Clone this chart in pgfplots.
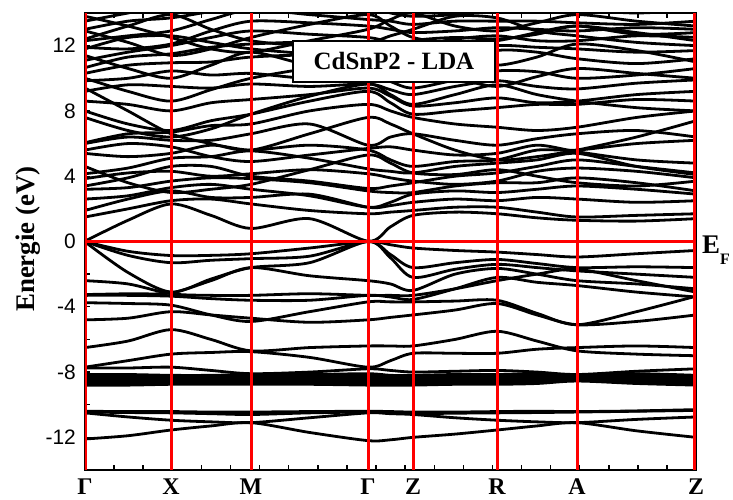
\documentclass[border=0pt]{standalone}
\usepackage{fontspec}
\setmainfont{Liberation Serif}
\newfontfamily\arial{Liberation Sans}
\usepackage{pgfplots}
\usepackage{pgfplotstable}
\pgfplotsset{compat=1.18}

% one row per band: energies at G, mid, X, mid, M, mid, G, mid, Z, mid, R, mid, A, mid, Z
\pgfplotstableread{
name p0 p1 p2 p3 p4 p5 p6 p7 p8 p9 p10 p11 p12 p13 p14
x 0 43 86 126 166 224.5 283 305.5 328 370 412 452 492 551.5 611
b1 -12.1 -11.9 -11.55 -11.3 -11.1 -11.7 -12.2 -12.15 -12.0 -11.8 -11.55 -11.3 -11.1 -11.6 -12.0
b2 -10.5 -10.75 -10.95 -11.05 -11.1 -10.8 -10.5 -10.55 -10.6 -10.8 -10.95 -11.05 -11.1 -10.9 -10.75
b3 -10.45 -10.48 -10.5 -10.55 -10.6 -10.5 -10.45 -10.5 -10.55 -10.52 -10.5 -10.48 -10.45 -10.4 -10.35
b4 -10.4 -10.42 -10.42 -10.45 -10.45 -10.42 -10.4 -10.42 -10.45 -10.45 -10.42 -10.4 -10.42 -10.38 -10.3
b5 -8.8 -8.8 -8.75 -8.75 -8.75 -8.75 -8.8 -8.8 -8.8 -8.75 -8.75 -8.7 -8.55 -8.7 -8.8
b6 -8.7 -8.7 -8.7 -8.65 -8.65 -8.7 -8.7 -8.7 -8.7 -8.65 -8.65 -8.6 -8.5 -8.6 -8.7
b7 -8.6 -8.55 -8.6 -8.6 -8.55 -8.6 -8.55 -8.6 -8.6 -8.6 -8.55 -8.5 -8.45 -8.5 -8.6
b8 -8.5 -8.45 -8.5 -8.5 -8.45 -8.45 -8.45 -8.5 -8.5 -8.5 -8.45 -8.4 -8.4 -8.4 -8.5
b9 -8.4 -8.35 -8.35 -8.4 -8.35 -8.35 -8.35 -8.4 -8.4 -8.35 -8.35 -8.3 -8.3 -8.3 -8.4
b10 -8.3 -8.25 -8.25 -8.3 -8.25 -8.25 -8.25 -8.3 -8.3 -8.25 -8.25 -8.2 -8.25 -8.2 -8.3
b11 -8.15 -8.15 -8.2 -8.2 -8.15 -8.15 -8.1 -8.2 -8.2 -8.15 -8.15 -8.1 -8.2 -8.1 -8.2
b12 -7.75 -7.75 -7.7 -7.9 -8.1 -8.0 -7.8 -7.9 -8.0 -7.95 -7.9 -8.0 -8.15 -7.95 -7.8
b13 -7.7 -7.3 -6.9 -6.8 -6.75 -7.1 -7.7 -7.3 -6.85 -6.85 -6.85 -6.6 -6.5 -6.4 -6.5
b14 -6.5 -6.1 -5.4 -6.0 -6.7 -6.5 -6.4 -6.4 -6.4 -6.0 -5.5 -6.1 -6.7 -6.9 -7.0
b15 -4.8 -4.7 -4.3 -4.5 -4.7 -4.95 -4.8 -4.65 -4.5 -4.2 -3.8 -4.5 -5.1 -4.9 -4.5
b16 -3.75 -3.8 -3.9 -4.5 -4.9 -4.3 -3.7 -3.7 -3.7 -3.65 -3.6 -4.4 -5.1 -4.3 -3.35
b17 -3.3 -3.3 -3.35 -3.5 -3.6 -3.6 -3.3 -3.4 -3.55 -2.9 -2.2 -2.5 -2.7 -3.1 -3.4
b18 -3.25 -3.2 -3.15 -2.4 -1.6 -2.1 -2.4 -2.6 -3.0 -2.0 -1.65 -2.0 -2.4 -2.6 -2.9
b19 -2.4 -2.6 -3.2 -3.3 -3.3 -3.2 -3.3 -3.3 -3.3 -2.9 -2.4 -2.0 -1.7 -2.4 -3.1
b20 0 -0.6 -0.86 -0.85 -0.75 -0.4 0 -0.2 -0.4 -0.55 -0.65 -0.8 -0.95 -0.75 -0.55
b21 0 -0.85 -1.3 -1.15 -1.05 -0.9 0 -0.8 -1.6 -1.3 -1.1 -1.35 -1.6 -1.55 -1.6
b22 -0.02 -1.9 -3.1 -2.3 -1.6 -1.3 0 -1.0 -2.2 -1.7 -1.4 -1.6 -1.8 -2.0 -2.2
b23 0.02 1.3 2.3 1.6 0.8 1.4 0.02 0.9 1.6 1.8 1.7 1.45 1.3 1.25 1.4
b24 1.5 2.0 2.5 2.6 2.3 1.9 1.7 1.8 1.9 2.1 2.1 1.8 1.5 1.6 1.7
b25 1.9 2.6 3.1 2.7 2.7 2.9 2.1 2.2 2.4 2.6 2.5 2.7 2.6 2.4 2.5
b26 3.2 3.3 3.7 3.9 3.85 3.6 3.1 3.0 3.0 3.4 3.6 3.6 3.9 3.6 3.1
b27 3.85 4.2 4.3 4.0 4.15 4.4 4.15 3.9 3.7 3.5 3.7 4.3 4.5 4.3 3.9
b28 4.15 4.5 5.1 5.2 5.55 5.1 4.45 4.3 4.2 4.6 4.8 5.0 5.4 4.6 4.1
b29 5.4 5.2 5.4 5.9 5.6 5.9 5.6 5.0 4.6 4.9 5.0 5.6 5.6 6.0 6.2
b30 6.0 6.4 6.2 6.2 6.6 7.2 5.9 6.4 6.6 6.2 5.9 6.3 6.6 6.8 6.4
b31 6.05 6.6 6.7 7.1 7.2 8.0 8.4 8.0 7.6 7.2 7.0 6.8 7.0 7.6 8.0
b32 8.0 7.2 6.8 7.4 7.8 8.6 9.2 8.5 7.8 8.0 8.2 8.4 8.4 8.7 8.6
b33 8.6 8.4 8.0 8.5 8.7 9.0 9.4 8.9 8.3 8.5 8.8 8.5 8.6 9.0 9.2
b34 9.2 9.6 9.5 9.4 9.65 9.5 9.65 9.3 9.0 9.5 9.85 9.5 9.35 9.7 9.9
b35 9.85 10.0 10.45 10.2 10.3 10.0 10.3 9.8 9.4 9.9 10.45 10.4 10.0 10.2 10.6
b36 10.3 10.8 10.95 11.0 11.3 11.4 11.0 10.6 10.2 10.9 11.7 11.6 11.2 10.9 11.2
b37 10.65 11.3 11.5 11.9 12.1 12.2 11.9 11.6 11.2 11.5 12.0 11.9 11.8 11.6 11.7
b38 11.1 11.6 12.0 12.5 12.9 12.7 12.5 12.2 12.0 12.4 12.6 12.3 12.3 12.6 12.5
b39 11.9 11.8 12.1 12.9 13.5 13.4 13.2 13.0 12.8 12.9 13.1 13.0 12.9 13.1 13.0
b40 12.3 12.6 12.9 13.6 14.2 13.9 13.6 13.5 13.3 13.5 13.5 13.5 13.4 13.3 13.5
b41 13.0 13.5 13.7 14.1 14.5 14.3 14.3 14.0 13.8 13.9 14.2 14.2 14.2 14.0 14.2
b42 13.5 14.0 14.5 14.5 15 15 15 14.8 14.5 14.6 15 15 15 15 15
b43 12.4 13.2 13.9 13.0 12.3 12.0 12.2 12.6 13.0 13.8 13.7 12.9 12.6 12.2 12.0
b44 11.8 12.5 12.6 12.2 11.8 11.5 11.3 11.8 12.3 12.5 12.4 12.7 13.2 12.8 12.3
b45 13.8 13.2 12.5 11.8 11.6 12.3 13.0 13.6 14.0 13.2 12.9 13.4 13.9 13.5 13.2
b46 10.0 9.2 8.6 9.3 10.0 10.6 10.8 10.5 10.4 10.0 9.5 10.1 10.6 10.3 10.0
b47 5.6 6.0 5.8 5.2 4.9 5.3 5.7 5.8 5.6 5.3 5.4 5.9 5.5 5.0 4.8
b48 3.4 3.9 4.6 4.6 4.0 3.7 3.25 3.4 3.6 4.0 4.2 4.6 5.0 4.6 4.2
b49 9.4 8.0 6.6 6.0 5.6 6.6 7.6 7.2 6.6 5.6 5.0 5.2 5.6 6.4 7.4
b50 7.6 6.8 6.4 6.9 7.8 8.9 9.65 9.0 8.4 9.0 9.6 9.0 8.6 8.2 8.0
b51 4.6 3.6 3.0 3.2 3.5 4.4 5.3 4.8 4.2 4.1 4.4 4.0 3.6 3.4 3.7
b52 2.6 2.8 3.3 3.5 3.2 2.8 2.1 2.4 2.9 3.1 3.0 3.2 3.4 3.2 2.9
b53 11.4 10.6 10.0 10.8 11.6 10.8 10.5 11.0 11.8 11.2 10.8 11.3 12.1 11.7 11.0
b54 12.9 12.2 11.4 11.8 12.5 13.3 13.9 13.2 12.5 12.1 12.3 12.8 13.2 12.7 12.8
}\raw
\pgfplotstabletranspose[colnames from=name]\bands\raw

\begin{document}
\begin{tikzpicture}
\path[use as bounding box] (-85bp,-30bp) rectangle (648bp,470bp);
\begin{axis}[
  scale only axis, width=611bp, height=457bp,
  at={(0,0)}, anchor=south west,
  xmin=0, xmax=611, ymin=-14, ymax=14,
  clip mode=individual,
  axis line style={line width=1.6bp},
  tick style={line width=1.4bp, black},
  tick align=inside,
  xtick={0,29.1,...,612}, xticklabels={},
  xtick pos=both,
  major tick length=5bp, minor tick length=5bp,
  extra x ticks={0,86,166,283,328,412,492,611},
  extra x tick labels={Γ,X,M,Γ,Z,R,A,Z},
  extra x tick style={major tick length=0pt,
    xticklabel style={font=\bfseries\fontsize{24}{24}\selectfont, anchor=north, inner sep=0pt, yshift=-9bp}},
  ytick={-12,-8,-4,0,4,8,12},
  yticklabels={-12,-8,-4,0,4,8,12},
  minor ytick={-10,-6,-2,2,6,10},
  ytick pos=left,
  yticklabel style={font=\arial\fontsize{21}{21}\selectfont, inner sep=0pt, xshift=-9bp},
  every axis plot/.append style={line join=round},
]
\pgfplotsinvokeforeach{1,...,54}{
  \addplot[black, line width=2.8bp, smooth] table[x=x, y=b#1] {\bands};
}
% high-symmetry lines and Fermi level
\addplot[red, line width=3bp] coordinates {(1,-14) (1,14)};
\addplot[red, line width=3bp] coordinates {(86,-14) (86,14)};
\addplot[red, line width=3bp] coordinates {(166,-14) (166,14)};
\addplot[red, line width=3bp] coordinates {(283,-14) (283,14)};
\addplot[red, line width=3bp] coordinates {(328,-14) (328,14)};
\addplot[red, line width=3bp] coordinates {(412,-14) (412,14)};
\addplot[red, line width=3bp] coordinates {(492,-14) (492,14)};
\addplot[red, line width=3bp] coordinates {(609,-14) (609,14)};
\addplot[red, line width=3bp] coordinates {(0,0) (611,0)};

\node[draw=black, fill=white, line width=1.5bp, minimum width=202bp, minimum height=41bp,
      inner sep=0pt, font=\bfseries\fontsize{25}{25}\selectfont]
      at (axis cs:309,11.04) {CdSnP2 - LDA};
\node[anchor=base west, inner sep=0pt, font=\bfseries\fontsize{27}{27}\selectfont]
      at ([xshift=6bp]axis cs:611,-0.73) {E\raisebox{-11bp}{\fontsize{16}{16}\selectfont F}};
\node[rotate=90, anchor=base, inner sep=0pt, font=\bfseries\fontsize{27}{27}\selectfont]
      at ([xshift=-50bp]axis cs:0,0.15) {Energie (eV)};
\end{axis}
\end{tikzpicture}
\end{document}
